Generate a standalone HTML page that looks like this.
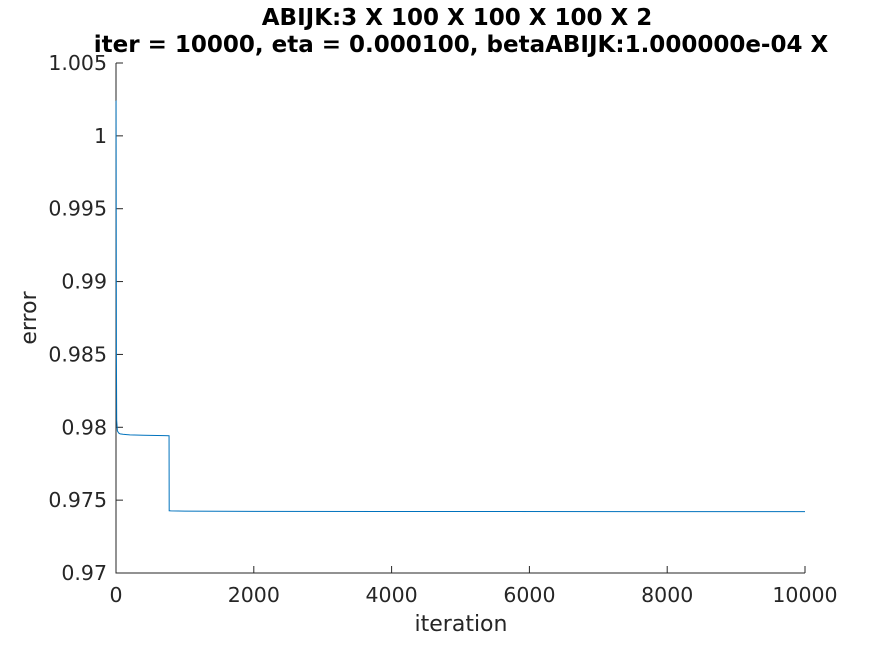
<!DOCTYPE html>
<html><head><meta charset="utf-8"><style>
body{margin:0;background:#fff;width:891px;height:645px;overflow:hidden}
text{font-family:"DejaVu Sans","Liberation Sans",sans-serif}
</style></head><body>
<svg width="891" height="645" xmlns="http://www.w3.org/2000/svg">
<g id="g"></g>
</svg>
<script>
const iterations=[1,3,6,10,20,40,60,100,200,400,700,770,772,800,1000,2000,5000,10000];
const errors=[1.0024,0.995,0.985,0.9805,0.97975,0.9796,0.97955,0.97952,0.97948,0.97945,0.97943,0.97942,0.97427,0.97426,0.97425,0.97423,0.97422,0.97421];
const xTicks=[0,2000,4000,6000,8000,10000];
const yTicks=[0.97,0.975,0.98,0.985,0.99,0.995,1,1.005];
const yTickLabels=["0.97","0.975","0.98","0.985","0.99","0.995","1","1.005"];
const L=116,R=805,T=63,B=573;
const xs=v=>L+(v-0)/10000*(R-L);
const ys=v=>B-(v-0.97)/0.035*(B-T);
const g=document.getElementById('g');const NS="http://www.w3.org/2000/svg";
function mk(t,a,txt){const e=document.createElementNS(NS,t);for(const k in a)e.setAttribute(k,a[k]);if(txt!=null)e.textContent=txt;g.appendChild(e);return e;}
let e=mk('path',{d:`M${L},${T}V${B}H${R}`,fill:'none',stroke:'#262626','stroke-width':1});


xTicks.forEach(v=>{const x=xs(v);
e=mk('line',{x1:x,x2:x,y1:B,y2:B-7,stroke:'#262626'});


e=mk('text',{x:x,y:B+29,'text-anchor':'middle','font-size':20.5,fill:'#262626'},v);

});
yTicks.forEach((v,i)=>{const y=ys(v);
e=mk('line',{x1:L,x2:L+7,y1:y,y2:y,stroke:'#262626'});


e=mk('text',{x:L-9,y:y+7,'text-anchor':'end','font-size':20.5,fill:'#262626'},yTickLabels[i]);

});
let d=`M${xs(0)},${ys(errors[0])}`;iterations.forEach((v,i)=>d+=`L${xs(v)},${ys(errors[i])}`);
e=mk('path',{d:d,fill:'none',stroke:'#0072BD','stroke-width':1});


e=mk('text',{x:461,y:631,'text-anchor':'middle','font-size':22,fill:'#262626'},'iteration');


e=mk('text',{x:36,y:318,'text-anchor':'middle','font-size':22,fill:'#262626',transform:'rotate(-90 36 318)'},'error');


e=mk('text',{x:457,y:25,'text-anchor':'middle','font-size':23,'font-weight':'bold',fill:'#000'},'ABIJK:3 X 100 X 100 X 100 X 2');


e=mk('text',{x:461,y:52,'text-anchor':'middle','font-size':23,'font-weight':'bold',fill:'#000'},'iter = 10000, eta = 0.000100, betaABIJK:1.000000e-04 X');


</script>
</body></html>
